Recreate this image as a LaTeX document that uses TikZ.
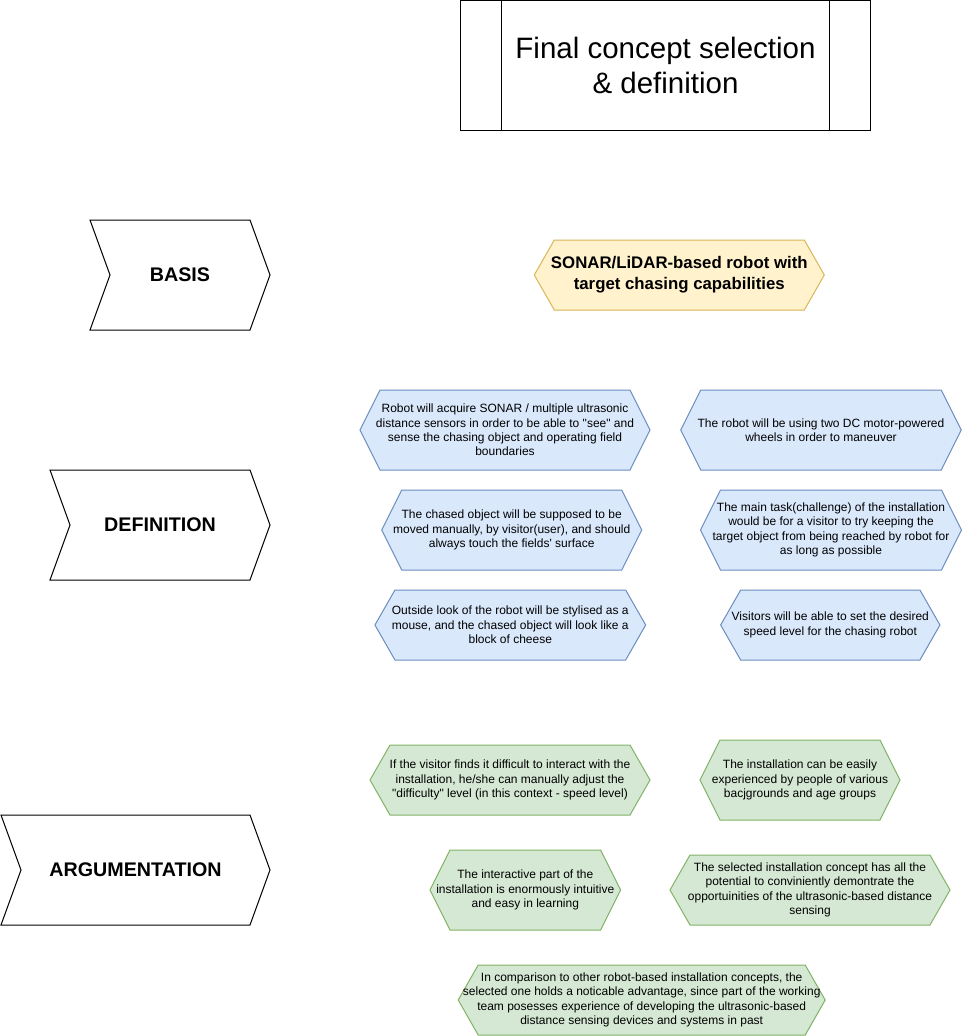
\documentclass[tikz,border=0pt]{standalone}
\usepackage{fontspec}
\setmainfont{Liberation Sans}
\usetikzlibrary{backgrounds}
\definecolor{bluefill}{HTML}{DAE8FC}
\definecolor{bluestroke}{HTML}{6C8EBF}
\definecolor{greenfill}{HTML}{D5E8D4}
\definecolor{greenstroke}{HTML}{82B366}
\definecolor{yellowfill}{HTML}{FFF2CC}
\definecolor{yellowstroke}{HTML}{D6B656}
\tikzset{
  box/.style={inner sep=0pt, outer sep=0pt, align=center},
  hextext/.style={box, font=\fontsize{12}{14.4}\selectfont},
  bluehex/.style={fill=bluefill, draw=bluestroke, line width=1pt, line join=miter},
  greenhex/.style={fill=greenfill, draw=greenstroke, line width=1pt, line join=miter},
  yellowhex/.style={fill=yellowfill, draw=yellowstroke, line width=1pt, line join=miter},
  chevline/.style={draw=black, fill=white, line width=1pt, line join=miter},
  chevtext/.style={box, font=\fontsize{19.7}{23}\selectfont\bfseries},
  titlebox/.style={box, draw=black, line width=1pt, font=\fontsize{29.5}{35.5}\selectfont},
}
% hexagon: name, style, cx, cy, width, height, text
\newcommand{\hexnode}[7]{%
  \node[hextext, minimum width=#5pt, minimum height=#6pt] (#1) at (#3,#4) {#7};
  \begin{scope}[on background layer]
    \path[#2] (#1.west) -- ([xshift=20pt]#1.north west) -- ([xshift=-20pt]#1.north east)
      -- (#1.east) -- ([xshift=-20pt]#1.south east) -- ([xshift=20pt]#1.south west) -- cycle;
  \end{scope}
}
% chevron: name, cx, cy, width, height, text
\newcommand{\chevnode}[6]{%
  \node[chevtext, minimum width=#4pt, minimum height=#5pt] (#1) at (#2,#3) {#6};
  \begin{scope}[on background layer]
    \path[chevline] (#1.north west) -- ([xshift=-20pt]#1.north east) -- (#1.east)
      -- ([xshift=-20pt]#1.south east) -- (#1.south west) -- ([xshift=20pt]#1.west) -- cycle;
  \end{scope}
}
\begin{document}
\begin{tikzpicture}[x=1pt, y=-1pt]
\useasboundingbox (0,0) rectangle (962,1036);
\begin{scope}[on background layer]
  \fill[white] (0,0) rectangle (962,1036);
\end{scope}

% title (process shape)
\node[titlebox, minimum width=409.5pt, minimum height=129.5pt] (title) at (665.5,65.25)
  {Final concept selection\\\& definition};
\draw[line width=1pt] ([xshift=41pt]title.north west) -- ([xshift=41pt]title.south west);
\draw[line width=1pt] ([xshift=-41pt]title.north east) -- ([xshift=-41pt]title.south east);

% chevrons
\chevnode{basis}{180}{275}{180}{110}{BASIS}
\chevnode{definition}{160}{525}{220}{110}{DEFINITION}
\chevnode{argumentation}{135.5}{870}{269}{110}{ARGUMENTATION}

% basis
\node[box, font=\fontsize{16.8}{20.8}\selectfont\bfseries, minimum width=290pt, minimum height=70pt]
  (sonar) at (679.3,275) {SONAR/LiDAR-based robot with\\target chasing capabilities};
\begin{scope}[on background layer]
  \path[yellowhex] (sonar.west) -- ([xshift=20pt]sonar.north west) -- ([xshift=-20pt]sonar.north east)
    -- (sonar.east) -- ([xshift=-20pt]sonar.south east) -- ([xshift=20pt]sonar.south west) -- cycle;
\end{scope}

% definition
\hexnode{d1}{bluehex}{505}{430}{290}{80}{Robot will acquire SONAR / multiple ultrasonic\\distance sensors in order to be able to \textquotedbl see\textquotedbl{} and\\sense the chasing object and operating field\\boundaries}
\hexnode{d2}{bluehex}{821}{430}{280.5}{80}{The robot will be using two DC motor-powered\\wheels in order to maneuver}
\hexnode{d3}{bluehex}{511.7}{530}{260}{80}{The chased object will be supposed to be\\moved manually, by visitor(user), and should\\always touch the fields\textquotesingle{} surface}
\hexnode{d4}{bluehex}{831}{530}{261}{80}{The main task(challenge) of the installation\\would be for a visitor to try keeping the\\target object from being reached by robot for\\as long as possible}
\hexnode{d5}{bluehex}{510.3}{625}{270.7}{70}{Outside look of the robot will be stylised as a\\mouse, and the chased object will look like a\\block of cheese}
\hexnode{d6}{bluehex}{830.3}{625}{219.3}{70}{Visitors will be able to set the desired\\speed level for the chasing robot}

% argumentation
\hexnode{a1}{greenhex}{510}{780}{280}{70}{If the visitor finds it difficult to interact with the\\installation, he/she can manually adjust the\\\textquotedbl difficulty\textquotedbl{} level (in this context - speed level)}
\hexnode{a2}{greenhex}{800}{780}{200}{80}{The installation can be easily\\experienced by people of various\\bacjgrounds and age groups}
\hexnode{a3}{greenhex}{525.3}{890}{190.7}{80}{The interactive part of the\\installation is enormously intuitive\\and easy in learning}
\hexnode{a4}{greenhex}{810}{890}{280}{70}{The selected installation concept has all the\\potential to conviniently demontrate the\\opportuinities of the ultrasonic-based distance\\sensing}
\hexnode{a5}{greenhex}{641.7}{1000}{367}{70}{In comparison to other robot-based installation concepts, the\\selected one holds a noticable advantage, since part of the working\\team posesses experience of developing the ultrasonic-based\\distance sensing devices and systems in past}
\end{tikzpicture}
\end{document}
